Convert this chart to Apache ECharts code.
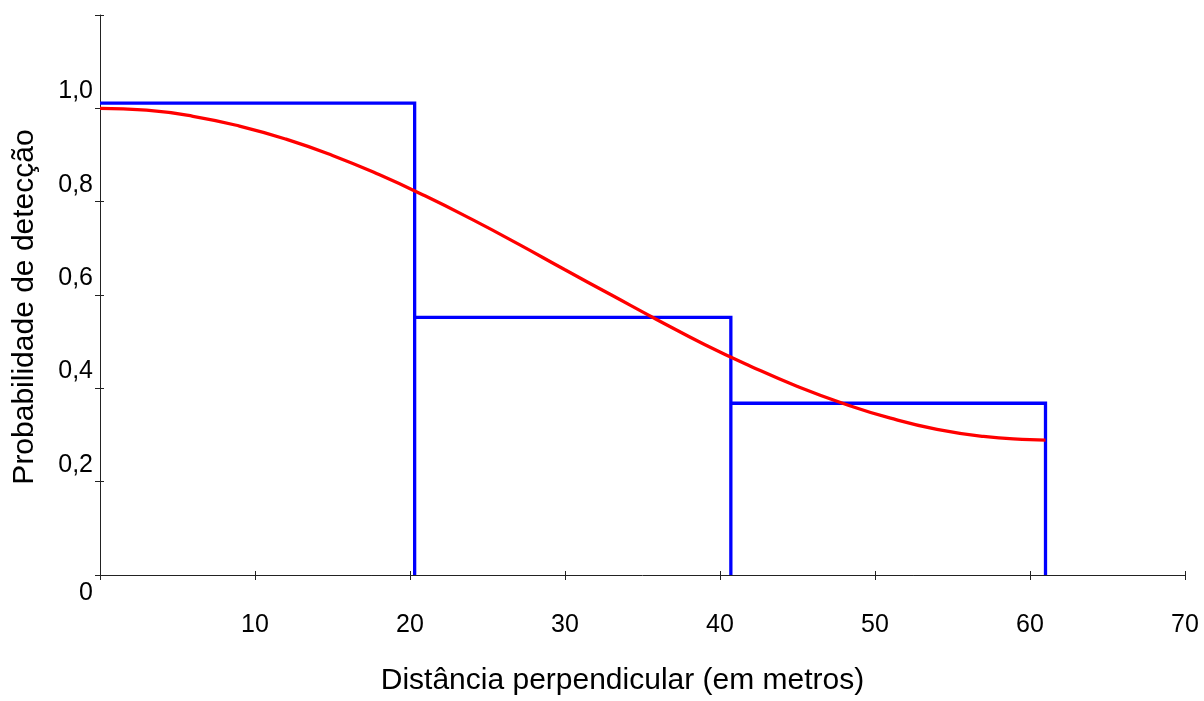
<!DOCTYPE html>
<html>
<head>
<meta charset="utf-8">
<script src="https://cdn.jsdelivr.net/npm/echarts@6/dist/echarts.min.js"></script>
<style>html,body{margin:0;padding:0;background:#fff}#c{width:1204px;height:701px}</style>
</head>
<body>
<div id="c"></div>
<script>
// Histogram bins (edges in metres, heights = detection probability)
const binEdges = [0, 20.3, 40.7, 61];
const binHeights = [1.011, 0.552, 0.368];
// Fitted detection function
const curveX = [0, 3, 6, 9, 12, 15, 18, 21, 24, 27, 30, 33, 36, 39, 42, 45, 48, 51, 54, 57, 60, 61];
const curveY = [1.000, 0.996, 0.983, 0.962, 0.934, 0.899, 0.858, 0.812, 0.762, 0.709, 0.654, 0.600, 0.546, 0.494, 0.447, 0.404, 0.367, 0.336, 0.312, 0.297, 0.290, 0.289];
const xTicks = [0, 10, 20, 30, 40, 50, 60, 70];
const yTicks = [0, 0.2, 0.4, 0.6, 0.8, 1.0, 1.2];
const xTitle = 'Distância perpendicular (em metros)';
const yTitle = 'Probabilidade de detecção';

const histPath = [];
for (let i = 0; i < binHeights.length; i++) {
  histPath.push([binEdges[i], binHeights[i]]);
  histPath.push([binEdges[i + 1], binHeights[i]]);
  histPath.push([binEdges[i + 1], 0]);
  if (i < binHeights.length - 1) histPath.push([binEdges[i + 1], binHeights[i + 1]]);
}
const curve = curveX.map((x, i) => [x, curveY[i]]);

const FONT = 'Liberation Sans';
const axisLine = { show: true, lineStyle: { color: '#222', width: 1 } };
const chart = echarts.init(document.getElementById('c'), null, { renderer: 'canvas' });
const base = {
  min: xTicks[0], max: xTicks[xTicks.length - 1], interval: 10
};
const ybase = { min: yTicks[0], max: yTicks[yTicks.length - 1], interval: 0.2 };
chart.setOption({
  animation: false,
  backgroundColor: '#fff',
  grid: { left: 100, right: 19, top: 15, bottom: 123, containLabel: false },
  xAxis: [
    Object.assign({
      type: 'value', position: 'bottom',
      axisLine: axisLine,
      axisTick: { show: true, inside: false, length: 5, lineStyle: { color: '#222' } },
      splitLine: { show: false },
      axisLabel: {
        margin: 38, fontFamily: FONT, fontSize: 25, color: '#000',
        formatter: v => (v === 0 ? '' : String(v))
      },
      name: xTitle, nameLocation: 'middle', nameGap: 91,
      nameTextStyle: { fontFamily: FONT, fontSize: 30, color: '#000', padding: [0, 40, 0, 0] }
    }, base),
    Object.assign({
      type: 'value', position: 'bottom',
      axisLine: { show: false },
      axisTick: { show: true, inside: true, length: 4, lineStyle: { color: '#222' } },
      splitLine: { show: false },
      axisLabel: { show: false }
    }, base)
  ],
  yAxis: [
    Object.assign({
      type: 'value', position: 'left',
      axisLine: axisLine,
      axisTick: { show: true, inside: false, length: 5, lineStyle: { color: '#222' } },
      splitLine: { show: false },
      axisLabel: {
        margin: 7, fontFamily: FONT, fontSize: 25, color: '#000',
        formatter: v => {
          if (Math.abs(v) < 1e-9) return '{z|0}';
          if (v > 1.1) return '';
          return '{a|' + v.toFixed(1).replace('.', ',') + '}';
        },
        rich: {
          a: { fontFamily: FONT, fontSize: 25, color: '#000', padding: [0, 0, 34, 0] },
          z: { fontFamily: FONT, fontSize: 25, color: '#000', padding: [36, 0, 0, 0] }
        }
      },
      name: yTitle, nameLocation: 'middle', nameGap: 60, nameRotate: 90,
      nameTextStyle: { fontFamily: FONT, fontSize: 30, color: '#000', padding: [0, 24, 0, 0] }
    }, ybase),
    Object.assign({
      type: 'value', position: 'left',
      axisLine: { show: false },
      axisTick: { show: true, inside: true, length: 4, lineStyle: { color: '#222' } },
      splitLine: { show: false },
      axisLabel: { show: false }
    }, ybase)
  ],
  series: [
    {
      type: 'line', data: histPath, showSymbol: false, symbol: 'none',
      lineStyle: { color: '#0000ff', width: 3.3, join: 'miter' }, z: 2
    },
    {
      type: 'line', data: curve, smooth: true, showSymbol: false, symbol: 'none',
      lineStyle: { color: '#ff0000', width: 3.3 }, z: 3
    }
  ]
});
</script>
</body>
</html>
